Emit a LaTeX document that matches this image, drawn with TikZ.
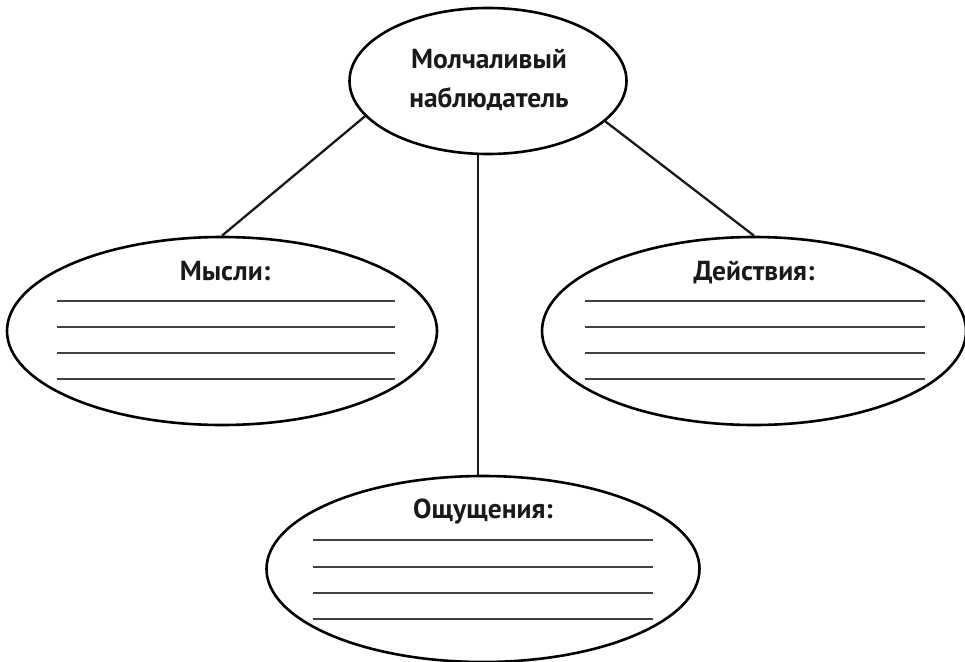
\documentclass[tikz,border=0pt]{standalone}
\usepackage{fontspec}
\setmainfont{PT Sans}
\usetikzlibrary{shapes.geometric}
\begin{document}
\begin{tikzpicture}[x=1pt,y=-1pt,
  oval/.style={draw=black, line width=2.6pt, ellipse, inner sep=0pt, fill=white},
  conn/.style={draw=black!90, line width=2.3pt},
  wline/.style={draw=black!75, line width=1.5pt},
  title/.style={font=\fontsize{27.5}{33}\selectfont\bfseries, text=black!90, inner sep=0pt, anchor=base}
]
\useasboundingbox (0,0) rectangle (965,661);
\node[oval, minimum width=277pt, minimum height=146pt] (top) at (488,81) {};
\node[oval, minimum width=430pt, minimum height=188pt] (left) at (222,331) {};
\node[oval, minimum width=424pt, minimum height=188pt] (right) at (754,331) {};
\node[oval, minimum width=433pt, minimum height=186pt] (bottom) at (483,569) {};
% titles
\node[title] (t1) at (489,68) {Молчаливый};
\node[title] (t2) at (489,107) {наблюдатель};
\node[title] (tl) at (225,280) {Мысли:};
\node[title] (tr) at (754,280) {Действия:};
\node[title] (tb) at (483,518) {Ощущения:};
% connectors
\coordinate (vx) at (478,0);
\draw[conn] (top.196) -- (left.north);
\draw[conn] (top.-19) -- (right.north);
\draw[conn] (vx |- top.south) -- (vx |- bottom.north);
% writing lines
\foreach \y in {301,327,353,379} {
  \draw[wline] (57,\y) -- (395,\y);
  \draw[wline] (585,\y) -- (925,\y);
}
\foreach \y in {540,567,593,619} {
  \draw[wline] (313,\y) -- (653,\y);
}
\end{tikzpicture}
\end{document}
